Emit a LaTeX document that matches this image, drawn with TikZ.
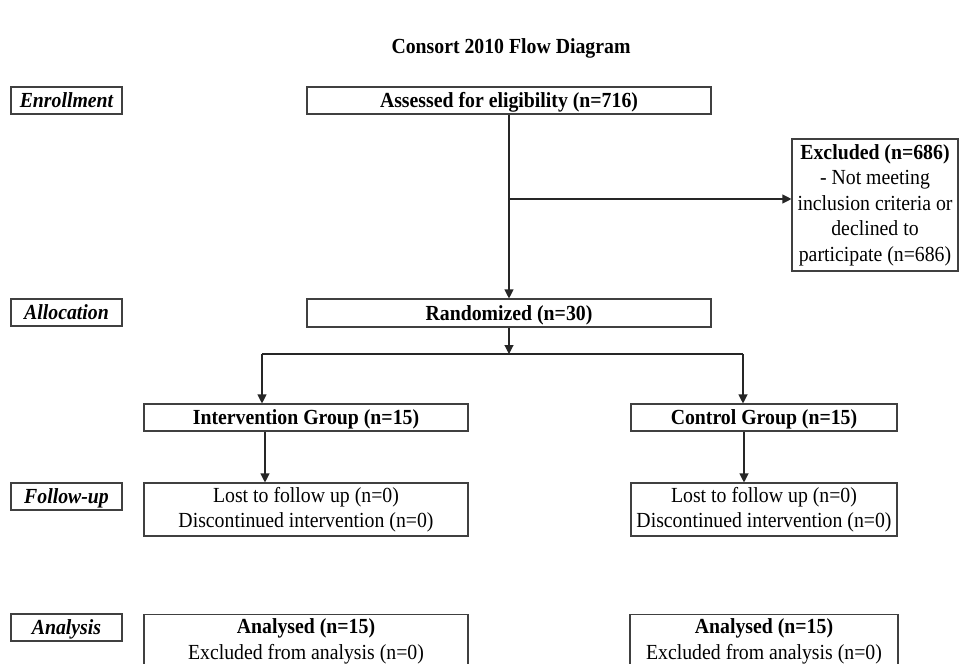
\documentclass[tikz,border=0pt]{standalone}
\usepackage{fontspec}
\setmainfont[FakeStretch=0.92]{Liberation Serif}
\usetikzlibrary{arrows.meta}
\newcommand{\fs}{\fontsize{21.5}{25.5}\selectfont}
\tikzset{
  box/.style={draw=black!75, line width=1.1pt, inner sep=1pt, font=\fs},
  mbox/.style={box, align=center},
  one/.style={text height=14.2pt, text depth=0pt},
  bbox/.style={box, one, font=\fs\bfseries},
  stage/.style={box, one, minimum width=111pt, minimum height=27pt,
    font=\fs\bfseries\itshape},
  conn/.style={draw=black!85, line width=1.1pt},
  arr/.style={conn, -{Triangle[length=9pt,width=9pt]}}
}
\begin{document}
\begin{tikzpicture}[x=1pt,y=-1pt]
\useasboundingbox (0,0) rectangle (959,664);
\clip (0,0) rectangle (959,664);
\fill[white] (0,0) rectangle (959,664);

\node[font=\fs\bfseries] (title) at (511,48) {Consort 2010 Flow Diagram};

% stage labels
\node[stage] (enroll) at (66.5,100.5) {Enrollment};
\node[stage] (alloc) at (66.5,312.5) {Allocation};
\node[stage] (follow) at (66.5,496.5) {Follow-up};
\node[stage] (analysis) at (66.5,627.5) {Analysis};

% main boxes
\node[bbox, minimum width=404pt, minimum height=27pt] (assess) at (509,100.5) {Assessed for eligibility (n=716)};
\node[mbox, minimum width=166pt, minimum height=132pt] (excl) at (875,205)
  {\textbf{Excluded (n=686)}\\- Not meeting\\inclusion criteria or\\declined to\\participate (n=686)};
\node[bbox, minimum width=404pt, minimum height=28pt] (rand) at (509,313) {Randomized (n=30)};

\node[bbox, minimum width=324pt, minimum height=27pt] (int) at (306,417.5) {Intervention Group (n=15)};
\node[bbox, minimum width=266pt, minimum height=27pt] (ctrl) at (764,417.5) {Control Group (n=15)};

\node[mbox, minimum width=324pt, minimum height=53pt] (lostL) at (306,509.5)
  {Lost to follow up (n=0)\\Discontinued intervention (n=0)};
\node[mbox, minimum width=266pt, minimum height=53pt] (lostR) at (764,509.5)
  {Lost to follow up (n=0)\\Discontinued intervention (n=0)};

\node[mbox, minimum width=324pt, minimum height=54pt, anchor=north] (anaL) at (306,614)
  {\textbf{Analysed (n=15)}\\Excluded from analysis (n=0)};
\node[mbox, minimum width=268pt, minimum height=54pt, anchor=north] (anaR) at (764,614)
  {\textbf{Analysed (n=15)}\\Excluded from analysis (n=0)};

% connectors
\coordinate (jx) at (509,199);
\draw[arr] (assess) -- (rand);
\draw[arr] (jx) -- (jx -| excl.west);

\coordinate (split) at (509,354);
\coordinate (bl) at (262,354);
\coordinate (br) at (743,354);
\draw[arr] (rand) -- (split);
\draw[conn] (bl) -- (br);
\draw[arr] (bl) -- (bl |- int.north);
\draw[arr] (br) -- (br |- ctrl.north);

\coordinate (lx) at (265,0);
\coordinate (rx) at (744,0);
\draw[arr] (lx |- int.south) -- (lx |- lostL.north);
\draw[arr] (rx |- ctrl.south) -- (rx |- lostR.north);
\end{tikzpicture}
\end{document}
